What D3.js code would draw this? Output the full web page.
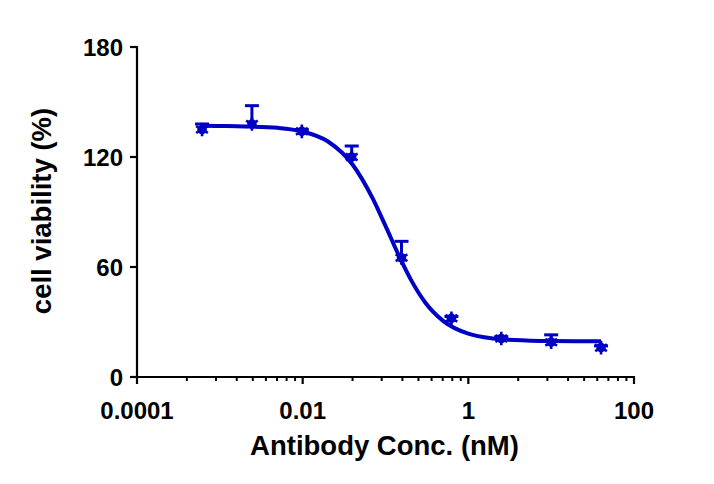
<!DOCTYPE html>
<html>
<head>
<meta charset="utf-8">
<script src="https://cdn.jsdelivr.net/npm/d3@7"></script>
<style>
html,body{margin:0;padding:0;background:#fff;}
svg{display:block;}
text{font-family:"Liberation Sans",Arial,sans-serif;font-weight:bold;fill:#000;}
</style>
</head>
<body>
<svg id="chart" width="714" height="484"></svg>
<script>
// Data
const concentrations = [0.00061, 0.00244, 0.00977, 0.0391, 0.156, 0.625, 2.5, 10, 40];
const viability      = [135, 138, 134, 120, 65, 32, 21, 19, 16];
const errorsUp       = [3, 10, 1, 6, 9, 1, 1, 4, 1];
// Fitted curve
const curveX = [0.00061, 0.001, 0.002, 0.005, 0.01, 0.02, 0.04, 0.07, 0.1, 0.15, 0.2, 0.3, 0.5, 1, 2, 5, 10, 20, 40];
const curveY = [137, 136.9, 136.7, 135.9, 133.9, 128.6, 115.9, 97.4, 82.4, 64.8, 53.5, 40.8, 30.5, 23.6, 21.0, 19.9, 19.6, 19.5, 19.5];
const xTickValues = [0.0001, 0.01, 1, 100];
const xTickLabels = ["0.0001", "0.01", "1", "100"];
const yTickValues = [0, 60, 120, 180];
const xTitle = "Antibody Conc. (nM)";
const yTitle = "cell viability (%)";

const color = "#0000c4";
const svg = d3.select("#chart");
const x = d3.scaleLog().domain([0.0001, 100]).range([137, 634]);
const y = d3.scaleLinear().domain([0, 180]).range([377, 47]);

// Minor ticks (Prism style: k^2 within each two-decade span)
const minor = [];
xTickValues.slice(0, -1).forEach(m => { for (let k = 2; k <= 9; k++) minor.push(m * k * k); });

const gx = svg.append("g").attr("transform", `translate(0,${y(0)})`);
gx.append("line").attr("x1", x(0.0001) - 1).attr("x2", x(100) + 1).attr("stroke", "#000").attr("stroke-width", 2.2);
gx.selectAll(".minor").data(minor).join("line")
  .attr("x1", d => x(d)).attr("x2", d => x(d)).attr("y1", 0).attr("y2", 4)
  .attr("stroke", "#000").attr("stroke-width", 2);
gx.selectAll(".major").data(xTickValues).join("line")
  .attr("x1", d => x(d)).attr("x2", d => x(d)).attr("y1", 0).attr("y2", 7)
  .attr("stroke", "#000").attr("stroke-width", 2.2);
gx.selectAll("text").data(xTickValues).join("text")
  .attr("x", d => x(d)).attr("y", 42).attr("text-anchor", "middle")
  .attr("font-size", 24).text((d, i) => xTickLabels[i]);

const gy = svg.append("g").attr("transform", `translate(${x(0.0001)},0)`);
gy.append("line").attr("y1", y(0)).attr("y2", y(180) - 1).attr("stroke", "#000").attr("stroke-width", 2.2);
gy.selectAll(".tick").data(yTickValues).join("line")
  .attr("x1", -7).attr("x2", 0).attr("y1", d => y(d)).attr("y2", d => y(d))
  .attr("stroke", "#000").attr("stroke-width", 2.2);
gy.selectAll("text").data(yTickValues).join("text")
  .attr("x", -14).attr("y", d => y(d)).attr("dy", "0.36em").attr("text-anchor", "end")
  .attr("font-size", 24).text(d => d);

svg.append("text").attr("x", (x(0.0001) + x(100)) / 2 - 1).attr("y", 455)
  .attr("text-anchor", "middle").attr("font-size", 27.5).text(xTitle);
svg.append("text").attr("transform", `translate(51,${(y(0) + y(180)) / 2 - 1}) rotate(-90)`)
  .attr("text-anchor", "middle").attr("font-size", 27.5).text(yTitle);

// Curve
const line = d3.line().x(d => x(d[0])).y(d => y(d[1])).curve(d3.curveMonotoneX);
svg.append("path").datum(curveX.map((c, i) => [c, curveY[i]]))
  .attr("d", line).attr("fill", "none").attr("stroke", color).attr("stroke-width", 4);

// Error bars (up only)
const pts = concentrations.map((c, i) => ({c, v: viability[i], e: errorsUp[i]}));
const eb = svg.append("g").attr("stroke", color).attr("stroke-width", 3);
eb.selectAll(".v").data(pts).join("line")
  .attr("x1", d => x(d.c)).attr("x2", d => x(d.c)).attr("y1", d => y(d.v)).attr("y2", d => y(d.v + d.e));
eb.selectAll(".cap").data(pts).join("line")
  .attr("x1", d => x(d.c) - 7).attr("x2", d => x(d.c) + 7).attr("y1", d => y(d.v + d.e)).attr("y2", d => y(d.v + d.e));

// Markers
const mk = svg.append("g");
mk.selectAll("circle").data(pts).join("circle")
  .attr("cx", d => x(d.c)).attr("cy", d => y(d.v)).attr("r", 4.8).attr("fill", color);
mk.selectAll("path").data(pts).join("path")
  .attr("transform", d => `translate(${x(d.c)},${y(d.v)})`)
  .attr("d", d3.symbol().type(d3.symbolAsterisk).size(130))
  .attr("stroke", color).attr("stroke-width", 2.6).attr("fill", "none");
</script>
</body>
</html>
